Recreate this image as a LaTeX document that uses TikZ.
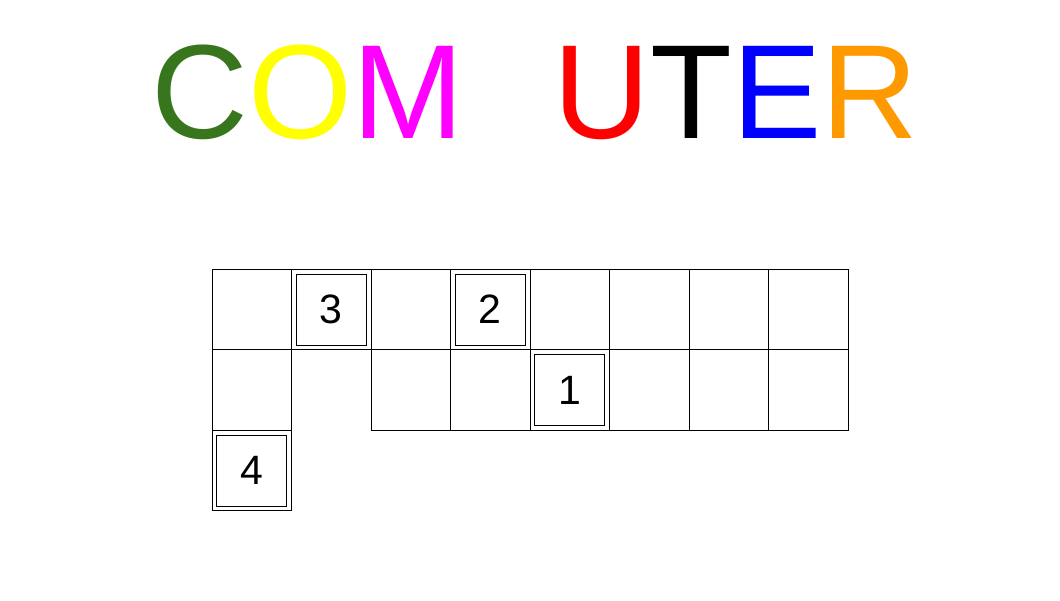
\documentclass[tikz,border=0pt]{standalone}
\usepackage{fontspec}
\setmainfont{Liberation Sans}
\definecolor{cgreen}{RGB}{56,118,29}
\definecolor{cyellow}{RGB}{255,255,0}
\definecolor{cmagenta}{RGB}{255,0,255}
\definecolor{cred}{RGB}{255,0,0}
\definecolor{cblue}{RGB}{0,0,255}
\definecolor{corange}{RGB}{255,153,0}
\begin{document}
\begin{tikzpicture}[x=1pt,y=-1pt,line width=1pt]
      \useasboundingbox (0,0) rectangle (1060,600);

      \node[anchor=base west,inner sep=0pt,font=\fontsize{134}{140}\selectfont] (title) at (151,138)
        {\textcolor{cgreen}{C}\textcolor{cyellow}{O}\textcolor{cmagenta}{M}\phantom{P}\textcolor{cred}{U}T\textcolor{cblue}{E}\textcolor{corange}{R}};

      \begin{scope}[every node/.style={draw,minimum width=79.5pt,minimum height=80.5pt,inner sep=0pt}]
        \node (a1) at (251.75,309.5) {};
        \node (a2) at (331.25,309.5) {};
        \node (a3) at (410.75,309.5) {};
        \node (a4) at (490.25,309.5) {};
        \node (a5) at (569.75,309.5) {};
        \node (a6) at (649.25,309.5) {};
        \node (a7) at (728.75,309.5) {};
        \node (a8) at (808.25,309.5) {};
        \node (b1) at (251.75,390) {};
        \node (b3) at (410.75,390) {};
        \node (b4) at (490.25,390) {};
        \node (b5) at (569.75,390) {};
        \node (b6) at (649.25,390) {};
        \node (b7) at (728.75,390) {};
        \node (b8) at (808.25,390) {};
        \node (c1) at (251.75,470.5) {};
      \end{scope}

      \begin{scope}[every node/.style={draw,line width=.8pt,minimum width=70pt,minimum height=71pt,inner sep=0pt,font=\fontsize{41}{48}\selectfont}]
        \node (n3) at (a2) {3};
        \node (n2) at (a4) {2};
        \node (n1) at (b5) {1};
        \node (n4) at (c1) {4};
      \end{scope}

    \end{tikzpicture}
\end{document}
